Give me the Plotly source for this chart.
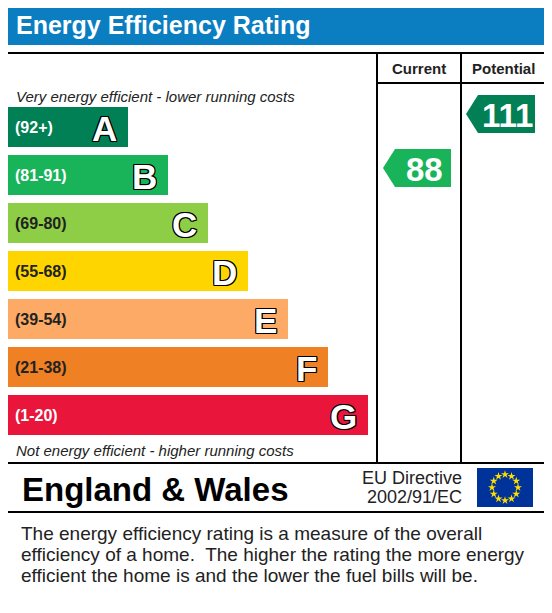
import plotly.graph_objects as go
import numpy as np

bands = ["A", "B", "C", "D", "E", "F", "G"]
ranges = ["(92+)", "(81-91)", "(69-80)", "(55-68)", "(39-54)", "(21-38)", "(1-20)"]
colors = ["#008054", "#19b459", "#8dce46", "#ffd500", "#fcaa65", "#ef8023", "#e9153b"]
label_colors = ["white", "white", "#222222", "#222222", "#222222", "#222222", "white"]
bar_ends = [128, 168, 208, 248, 288, 328, 368]
band_centers = [127, 175, 223, 271, 319, 367, 415]
current = 88
potential = 111
current_color = "#19b459"
potential_color = "#008054"
footnote = ["The energy efficiency rating is a measure of the overall",
            "efficiency of a home.  The higher the rating the more energy",
            "efficient the home is and the lower the fuel bills will be."]

OFF = 8  # page body margin
W, H = 552, 613
fig = go.Figure()
shadow = "1px 1px 0 #000, -1px -1px 0 #000, 1px -1px 0 #000, -1px 1px 0 #000, 0 1px 0 #000, 0 -1px 0 #000, 1px 0 0 #000, -1px 0 0 #000"

fig.add_trace(go.Bar(orientation="h", y=band_centers, x=[e - 6 for e in bar_ends], base=6,
                     width=40, marker=dict(color=colors, line=dict(width=0)), hoverinfo="skip"))
for c, r, e, b, lc in zip(band_centers, ranges, bar_ends, bands, label_colors):
    fig.add_annotation(x=13, y=c, text="<b>%s</b>" % r, showarrow=False, xanchor="left",
                       font=dict(family="Liberation Sans", size=16, color=lc))
    fig.add_annotation(x=e - 9, y=c + 1, text="<b>%s</b>" % b, showarrow=False, xanchor="right",
                       font=dict(family="Liberation Sans", size=35, color="white", shadow=shadow))

def arrow(x0, x1, yc, col, val):
    h = 19
    xs = [x0, x0 + 12, x1, x1, x0 + 12, x0]
    ys = [yc, yc - h, yc - h, yc + h, yc + h, yc]
    fig.add_trace(go.Scatter(x=xs, y=ys, fill="toself", fillcolor=col, mode="lines",
                             line=dict(width=0, color=col), hoverinfo="skip"))
    fig.add_annotation(x=(x0 + 12 + x1) / 2 + 1, y=yc + 1, text="<b>%d</b>" % val, showarrow=False,
                       font=dict(family="Liberation Sans", size=33, color="white"))

arrow(383, 451, 168, current_color, current)
arrow(466, 535, 114, potential_color, potential)

shapes = []
shapes.append(dict(type="rect", x0=5, x1=546, y0=5, y1=45, fillcolor="#0b7dc1", line=dict(width=0), layer="below"))
lw = dict(color="black", width=2)
shapes.append(dict(type="rect", x0=6, x1=545, y0=53, y1=512, line=lw))
for x in (377, 461):
    shapes.append(dict(type="line", x0=x, x1=x, y0=53, y1=463, line=lw))
shapes.append(dict(type="line", x0=377, x1=545, y0=83, y1=83, line=lw))
shapes.append(dict(type="line", x0=6, x1=545, y0=463, y1=463, line=lw))
shapes.append(dict(type="rect", x0=477, x1=533, y0=468, y1=507, fillcolor="#003399", line=dict(width=0), layer="below"))

ang = np.linspace(0, 2 * np.pi, 13)[:-1]
fig.add_trace(go.Scatter(x=505 + 13 * np.sin(ang), y=487.5 - 13 * np.cos(ang), mode="markers",
                         marker=dict(symbol="star", size=6, color="#ffdd00", line=dict(width=0)), hoverinfo="skip"))

texts = [
    (14, 25, "<b>Energy Efficiency Rating</b>", 25, "white", "left"),
    (419, 68, "<b>Current</b>", 15, "#222", "center"),
    (503, 68, "<b>Potential</b>", 15, "#222", "center"),
    (14, 96, "<i>Very energy efficient - lower running costs</i>", 15, "#222", "left"),
    (14, 450, "<i>Not energy efficient - higher running costs</i>", 15, "#222", "left"),
    (20, 489, "<b>England & Wales</b>", 33, "black", "left"),
    (464, 478, "EU Directive", 18, "#222", "right"),
    (464, 497, "2002/91/EC", 18, "#222", "right"),
]
for i, line in enumerate(footnote):
    texts.append((19, 533 + 21 * i, line, 19, "#222", "left"))
for x, y, t, s, c, a in texts:
    fig.add_annotation(x=x, y=y, text=t, showarrow=False, xanchor=a,
                       font=dict(family="Liberation Sans", size=s, color=c))

fig.update_layout(width=W - 2 * OFF, height=H - 2 * OFF, margin=dict(l=0, r=0, t=0, b=0), showlegend=False,
                  plot_bgcolor="white", paper_bgcolor="white", shapes=shapes,
                  xaxis=dict(range=[OFF, W - OFF], visible=False, fixedrange=True),
                  yaxis=dict(range=[H - OFF, OFF], visible=False, fixedrange=True))
fig.write_html("out.html", config={"displayModeBar": False})
